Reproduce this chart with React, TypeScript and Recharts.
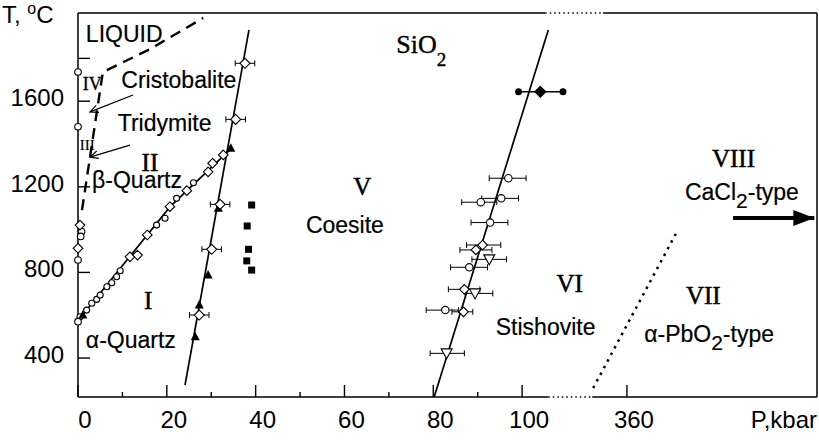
import React from 'react';
import { ComposedChart, XAxis, YAxis, Scatter, ErrorBar } from 'recharts';

const SANS = '"Liberation Sans", Arial, Helvetica, sans-serif';
const SERIF = '"Liberation Serif", "Times New Roman", serif';

// chart geometry
const CHART_W = 819;
const CHART_H = 441;
const MARGIN = { top: 13, right: 2, bottom: 0, left: 0 };
const Y_AXIS_W = 78;
const X_AXIS_H = 44;

// axes (P is a display scale: linear to 100 kbar, then broken)
const X_DOMAIN: [number, number] = [0, 166.4];
const Y_DOMAIN: [number, number] = [218, 2012];
const X_TICKS = [0, 20, 40, 60, 80, 100, 123.6];
const X_TICK_LABELS = ['0', '20', '40', '60', '80', '100', '360'];
const X_MINOR_TICKS = [10, 30, 50, 70, 90];
const Y_TICKS = [400, 800, 1200, 1600];
const Y_MINOR_TICKS = [1800];
const BOTTOM_BREAK = [105.9, 115.8];
const TOP_BREAK = [105.2, 118.2];

// phase boundaries, [P, T]
const ALPHA_BETA_LINE = [[0, 575], [20.7, 1106], [34.3, 1375]];
const COESITE_LINE = [[24.1, 274], [38.5, 1933]];
const STISHOVITE_LINE = [[80.2, 218], [105.9, 1933]];
const PBO2_LINE = [[116.0, 260], [134.7, 984]];
const LIQUID_LINE = [[0.9, 1091], [5.6, 1736], [16.2, 1843], [28.2, 1989]];

// experimental points
const QUARTZ_CIRCLES = [
  [0.45, 593], [1.95, 624], [3.1, 656], [4.2, 674], [5.0, 694], [6.5, 733], [7.6, 752],
  [8.7, 780], [9.5, 808], [17.7, 1021], [19.6, 1053], [22.2, 1146], [26.0, 1219],
];
const QUARTZ_DIAMONDS = [
  [11.7, 873], [13.4, 881], [15.6, 975], [20.7, 1107], [24.5, 1182], [29.3, 1270], [30.3, 1310], [32.7, 1349],
];
const AXIS_CIRCLES = [[0, 1736], [0, 1480], [0, 570], [0.8, 991], [0.6, 968], [0, 858]];
const AXIS_DIAMONDS = [[0.45, 1021], [0, 913]];
const FILLED_TRIANGLES = [[1.1, 601], [26.4, 500], [27.3, 648], [29.3, 788], [31.6, 1100], [34.4, 1380]];
const COESITE_DIAMONDS = [[27.3, 601], [30.1, 908], [32.0, 1118], [35.5, 1515], [37.6, 1777]];
const COESITE_DIAMOND_ERR = 2.2;
const SQUARES = [[39.1, 1115], [38.1, 1017], [38.4, 908], [38.0, 854], [39.1, 811]];

const STISH_CIRCLES = [[96.9, 1240], [95.3, 1146], [90.7, 1128], [92.8, 1033], [88.1, 824], [82.7, 624]];
const STISH_CIRCLE_ERR = [[4.3, 4.0], [4.4, 3.9], [4.3, 3.6], [4.3, 4.0], [4.2, 4.1], [4.3, 3.0]];
const STISH_DIAMONDS = [[91.1, 928], [89.6, 905], [87.0, 721], [86.8, 616]];
const STISH_DIAMOND_ERR = [[3.6, 4.1], [3.6, 3.6], [3.6, 3.5], [2.6, 2.1]];
const STISH_TRIANGLES = [[92.6, 861], [89.4, 702], [83.0, 422]];
const STISH_TRIANGLE_ERR = [[3.9, 3.9], [2.2, 4.0], [3.7, 4.0]];
const HIGH_P_CIRCLES = [[99.2, 1644], [109.2, 1644]];
const HIGH_P_DIAMOND = [[104.1, 1644]];

// arrows: [from, to]
const THIN_ARROWS = [
  [[12.4, 1629], [2.7, 1550]],
  [[11.7, 1395], [2.7, 1339]],
];
const BIG_ARROW = [[147.5, 1054], [165.8, 1054]];

// region labels: [P, T(baseline), text, kind, subscript, after]
const LABELS: [number, number, string, string, string?, string?][] = [
  [10.4, 1877, 'LIQUID', 'name'],
  [3.2, 1652, 'IV', 'romanSmall'],
  [22.7, 1662, 'Cristobalite', 'name'],
  [19.5, 1461, 'Tridymite', 'name'],
  [2.1, 1372, 'III', 'romanTiny'],
  [16.2, 1272, 'II', 'roman'],
  [13.3, 1194, 'β-Quartz', 'name'],
  [15.8, 629, 'I', 'roman'],
  [11.9, 447, 'α-Quartz', 'name'],
  [77.3, 1825, 'SiO', 'formula', '2', ''],
  [64.0, 1162, 'V', 'roman'],
  [60.1, 982, 'Coesite', 'name'],
  [110.7, 708, 'VI', 'roman'],
  [105.3, 507, 'Stishovite', 'name'],
  [140.8, 652, 'VII', 'roman'],
  [142.1, 476, 'α-PbO', 'name', '2', '-type'],
  [147.6, 1294, 'VIII', 'roman'],
  [149.5, 1138, 'CaCl', 'name', '2', '-type'],
];

const LABEL_STYLE: Record<string, { font: string; size: number; subSize: number; subDy: number; stroke: number }> = {
  name: { font: SANS, size: 23, subSize: 21, subDy: 8, stroke: 0.2 },
  roman: { font: SERIF, size: 25, subSize: 18, subDy: 10, stroke: 0.5 },
  romanSmall: { font: SERIF, size: 18, subSize: 14, subDy: 6, stroke: 0.3 },
  romanTiny: { font: SERIF, size: 15, subSize: 10, subDy: 4, stroke: 0.2 },
  formula: { font: SERIF, size: 26, subSize: 19, subDy: 13, stroke: 0.4 },
};

const PLOT_W = CHART_W - MARGIN.left - MARGIN.right - Y_AXIS_W;
const PLOT_H = CHART_H - MARGIN.top - MARGIN.bottom - X_AXIS_H;
const PX_PER_P = PLOT_W / (X_DOMAIN[1] - X_DOMAIN[0]);
const PX_PER_T = PLOT_H / (Y_DOMAIN[1] - Y_DOMAIN[0]);

const pts = (a: number[][]) => a.map(([p, t]) => ({ p, t }));
const withErr = (a: number[][], err: number[][]) => a.map(([p, t], i) => ({ p, t, ex: err[i] }));

const frame = [
  { dash: false, data: [[X_DOMAIN[0], Y_DOMAIN[0]], [X_DOMAIN[0], Y_DOMAIN[1]]] },
  { dash: false, data: [[X_DOMAIN[1], Y_DOMAIN[0]], [X_DOMAIN[1], Y_DOMAIN[1]]] },
  { dash: false, data: [[X_DOMAIN[0], Y_DOMAIN[0]], [BOTTOM_BREAK[0], Y_DOMAIN[0]]] },
  { dash: true, data: [[BOTTOM_BREAK[0], Y_DOMAIN[0]], [BOTTOM_BREAK[1], Y_DOMAIN[0]]] },
  { dash: false, data: [[BOTTOM_BREAK[1], Y_DOMAIN[0]], [X_DOMAIN[1], Y_DOMAIN[0]]] },
  { dash: false, data: [[X_DOMAIN[0], Y_DOMAIN[1]], [TOP_BREAK[0], Y_DOMAIN[1]]] },
  { dash: true, data: [[TOP_BREAK[0], Y_DOMAIN[1]], [TOP_BREAK[1], Y_DOMAIN[1]]] },
  { dash: false, data: [[TOP_BREAK[1], Y_DOMAIN[1]], [X_DOMAIN[1], Y_DOMAIN[1]]] },
];

const noShape = () => <g />;

const openCircle = (r: number) => (props: any) => (
  <circle cx={props.cx} cy={props.cy} r={r} fill="#fff" stroke="#000" strokeWidth={1.1} />
);
const filledCircle = (props: any) => <circle cx={props.cx} cy={props.cy} r={3.5} fill="#000" />;
const diamond = (h: number, fill: string) => (props: any) => {
  const { cx, cy } = props;
  return (
    <polygon
      points={`${cx},${cy - h} ${cx + h},${cy} ${cx},${cy + h} ${cx - h},${cy}`}
      fill={fill}
      stroke="#000"
      strokeWidth={1.1}
    />
  );
};
const triangleUp = (props: any) => {
  const { cx, cy } = props;
  return <polygon points={`${cx},${cy - 5} ${cx + 4.5},${cy + 3.5} ${cx - 4.5},${cy + 3.5}`} fill="#000" />;
};
const triangleDown = (props: any) => {
  const { cx, cy } = props;
  return (
    <polygon
      points={`${cx - 5.5},${cy - 4.5} ${cx + 5.5},${cy - 4.5} ${cx},${cy + 5.5}`}
      fill="#fff"
      stroke="#000"
      strokeWidth={1.1}
    />
  );
};
const square = (props: any) => <rect x={props.cx - 3.5} y={props.cy - 3.5} width={7} height={7} fill="#000" />;

const thinArrowHead = (props: any) => {
  const { cx, cy, payload } = props;
  if (!payload.head) return <g />;
  const dx = (payload.fromP - payload.p) * PX_PER_P;
  const dy = -(payload.fromT - payload.t) * PX_PER_T;
  const len = Math.hypot(dx, dy);
  const ux = dx / len;
  const uy = dy / len;
  const a = (25 * Math.PI) / 180;
  const L = 9;
  const r1 = [ux * Math.cos(a) - uy * Math.sin(a), ux * Math.sin(a) + uy * Math.cos(a)];
  const r2 = [ux * Math.cos(-a) - uy * Math.sin(-a), ux * Math.sin(-a) + uy * Math.cos(-a)];
  return (
    <path
      d={`M${cx + r1[0] * L},${cy + r1[1] * L} L${cx},${cy} L${cx + r2[0] * L},${cy + r2[1] * L}`}
      fill="none"
      stroke="#000"
      strokeWidth={1.2}
    />
  );
};

const bigArrowHead = (props: any) => {
  const { cx, cy, payload } = props;
  if (!payload.head) return <g />;
  return <polygon points={`${cx},${cy} ${cx - 21},${cy - 8} ${cx - 21},${cy + 8}`} fill="#000" />;
};

const arrowData = (arrow: number[][]) => [
  { p: arrow[0][0], t: arrow[0][1], head: false },
  { p: arrow[1][0], t: arrow[1][1], head: true, fromP: arrow[0][0], fromT: arrow[0][1] },
];

const labelData = LABELS.map(([p, t, text, kind, sub, after]) => ({ p, t, text, kind, sub, after }));

const RegionLabel = (props: any) => {
  const { cx, cy, payload } = props;
  const s = LABEL_STYLE[payload.kind];
  return (
    <text
      x={cx}
      y={cy}
      textAnchor="middle"
      fontFamily={s.font}
      fontSize={s.size}
      fill="#000"
      stroke="#000"
      strokeWidth={s.stroke}
    >
      {payload.text}
      {payload.sub ? (
        <tspan dy={s.subDy} fontSize={s.subSize}>
          {payload.sub}
        </tspan>
      ) : null}
      {payload.after ? <tspan dy={-s.subDy}>{payload.after}</tspan> : null}
    </text>
  );
};

const XTick = (props: any) => {
  const { x, y, payload } = props;
  const minor = X_MINOR_TICKS.includes(payload.value);
  const idx = X_TICKS.indexOf(payload.value);
  return (
    <g>
      <line x1={x} x2={x} y1={y} y2={y - (minor ? 5 : 12)} stroke="#000" strokeWidth={1.4} />
      {!minor && (
        <text x={x + 7} y={y + 31} textAnchor="middle" fontFamily={SANS} fontSize={24} fill="#000">
          {X_TICK_LABELS[idx]}
        </text>
      )}
    </g>
  );
};

const YTick = (props: any) => {
  const { x, y, payload } = props;
  const minor = Y_MINOR_TICKS.includes(payload.value);
  return (
    <g>
      <line x1={x} x2={x + 12} y1={y} y2={y} stroke="#000" strokeWidth={1.4} />
      {!minor && (
        <text x={x - 14} y={y + 5} textAnchor="end" fontFamily={SANS} fontSize={24} fill="#000">
          {payload.value}
        </text>
      )}
    </g>
  );
};

const yTitle = (props: any) => {
  const vb = props.viewBox;
  return (
    <text x={vb.x + 2} y={vb.y + 10} fontFamily={SANS} fontSize={24} fill="#000">
      T,{' '}
      <tspan dy={-9} fontSize={16}>
        o
      </tspan>
      <tspan dy={9}>C</tspan>
    </text>
  );
};

const xTitle = (props: any) => {
  const vb = props.viewBox;
  return (
    <text x={vb.x + vb.width} y={vb.y + 31} textAnchor="end" fontFamily={SANS} fontSize={24} fill="#000">
      P,kbar
    </text>
  );
};

const line = (width: number, dash?: string) => ({ stroke: '#000', strokeWidth: width, strokeDasharray: dash });

export default function App() {
  return (
    <div style={{ position: 'absolute', left: 0, top: 0, width: CHART_W, height: CHART_H, background: '#fff' }}>
      <ComposedChart width={CHART_W} height={CHART_H} margin={MARGIN}>
        <XAxis
          type="number"
          dataKey="p"
          domain={X_DOMAIN}
          ticks={[...X_TICKS, ...X_MINOR_TICKS]}
          interval={0}
          tick={<XTick />}
          tickLine={false}
          axisLine={false}
          tickSize={0}
          tickMargin={0}
          height={X_AXIS_H}
          label={xTitle}
        />
        <YAxis
          type="number"
          dataKey="t"
          domain={Y_DOMAIN}
          ticks={[...Y_TICKS, ...Y_MINOR_TICKS]}
          interval={0}
          tick={<YTick />}
          tickLine={false}
          axisLine={false}
          tickSize={0}
          tickMargin={0}
          width={Y_AXIS_W}
          label={yTitle}
        />

        {frame.map((seg, i) => (
          <Scatter
            key={`frame-${i}`}
            data={pts(seg.data)}
            line={seg.dash ? line(1.5, '1.5 3') : line(1.5)}
            lineType="joint"
            shape={noShape}
            isAnimationActive={false}
          />
        ))}

        <Scatter data={pts(LIQUID_LINE)} line={line(2.4, '11 7')} lineType="joint" shape={noShape} isAnimationActive={false} />
        <Scatter data={pts(PBO2_LINE)} line={line(2.5, '2.5 5')} lineType="joint" shape={noShape} isAnimationActive={false} />
        <Scatter data={pts(ALPHA_BETA_LINE)} line={line(1.7)} lineType="joint" shape={noShape} isAnimationActive={false} />
        <Scatter data={pts(COESITE_LINE)} line={line(1.7)} lineType="joint" shape={noShape} isAnimationActive={false} />
        <Scatter data={pts(STISHOVITE_LINE)} line={line(1.7)} lineType="joint" shape={noShape} isAnimationActive={false} />

        {THIN_ARROWS.map((a, i) => (
          <Scatter
            key={`arrow-${i}`}
            data={arrowData(a)}
            line={line(1.2)}
            lineType="joint"
            shape={thinArrowHead}
            isAnimationActive={false}
          />
        ))}
        <Scatter data={arrowData(BIG_ARROW)} line={line(4)} lineType="joint" shape={bigArrowHead} isAnimationActive={false} />

        <Scatter data={pts(QUARTZ_CIRCLES)} shape={openCircle(3)} isAnimationActive={false} />
        <Scatter data={pts(QUARTZ_DIAMONDS)} shape={diamond(4.8, '#fff')} isAnimationActive={false} />
        <Scatter data={pts(AXIS_CIRCLES)} shape={openCircle(3.3)} isAnimationActive={false} />
        <Scatter data={pts(AXIS_DIAMONDS)} shape={diamond(4.8, '#fff')} isAnimationActive={false} />
        <Scatter data={pts(FILLED_TRIANGLES)} shape={triangleUp} isAnimationActive={false} />
        <Scatter
          data={COESITE_DIAMONDS.map(([p, t]) => ({ p, t, ex: COESITE_DIAMOND_ERR }))}
          shape={diamond(5, '#fff')}
          isAnimationActive={false}
        >
          <ErrorBar dataKey="ex" direction="x" width={3} stroke="#000" strokeWidth={1} />
        </Scatter>
        <Scatter data={pts(SQUARES)} shape={square} isAnimationActive={false} />

        <Scatter data={withErr(STISH_CIRCLES, STISH_CIRCLE_ERR)} shape={openCircle(3.7)} isAnimationActive={false}>
          <ErrorBar dataKey="ex" direction="x" width={3} stroke="#000" strokeWidth={1} />
        </Scatter>
        <Scatter data={withErr(STISH_DIAMONDS, STISH_DIAMOND_ERR)} shape={diamond(4.8, '#fff')} isAnimationActive={false}>
          <ErrorBar dataKey="ex" direction="x" width={3} stroke="#000" strokeWidth={1} />
        </Scatter>
        <Scatter data={withErr(STISH_TRIANGLES, STISH_TRIANGLE_ERR)} shape={triangleDown} isAnimationActive={false}>
          <ErrorBar dataKey="ex" direction="x" width={3} stroke="#000" strokeWidth={1} />
        </Scatter>
        <Scatter data={pts(HIGH_P_CIRCLES)} line={line(1.5)} lineType="joint" shape={filledCircle} isAnimationActive={false} />
        <Scatter data={pts(HIGH_P_DIAMOND)} shape={diamond(5.5, '#000')} isAnimationActive={false} />

        <Scatter data={labelData} shape={RegionLabel} isAnimationActive={false} />
      </ComposedChart>
    </div>
  );
}
